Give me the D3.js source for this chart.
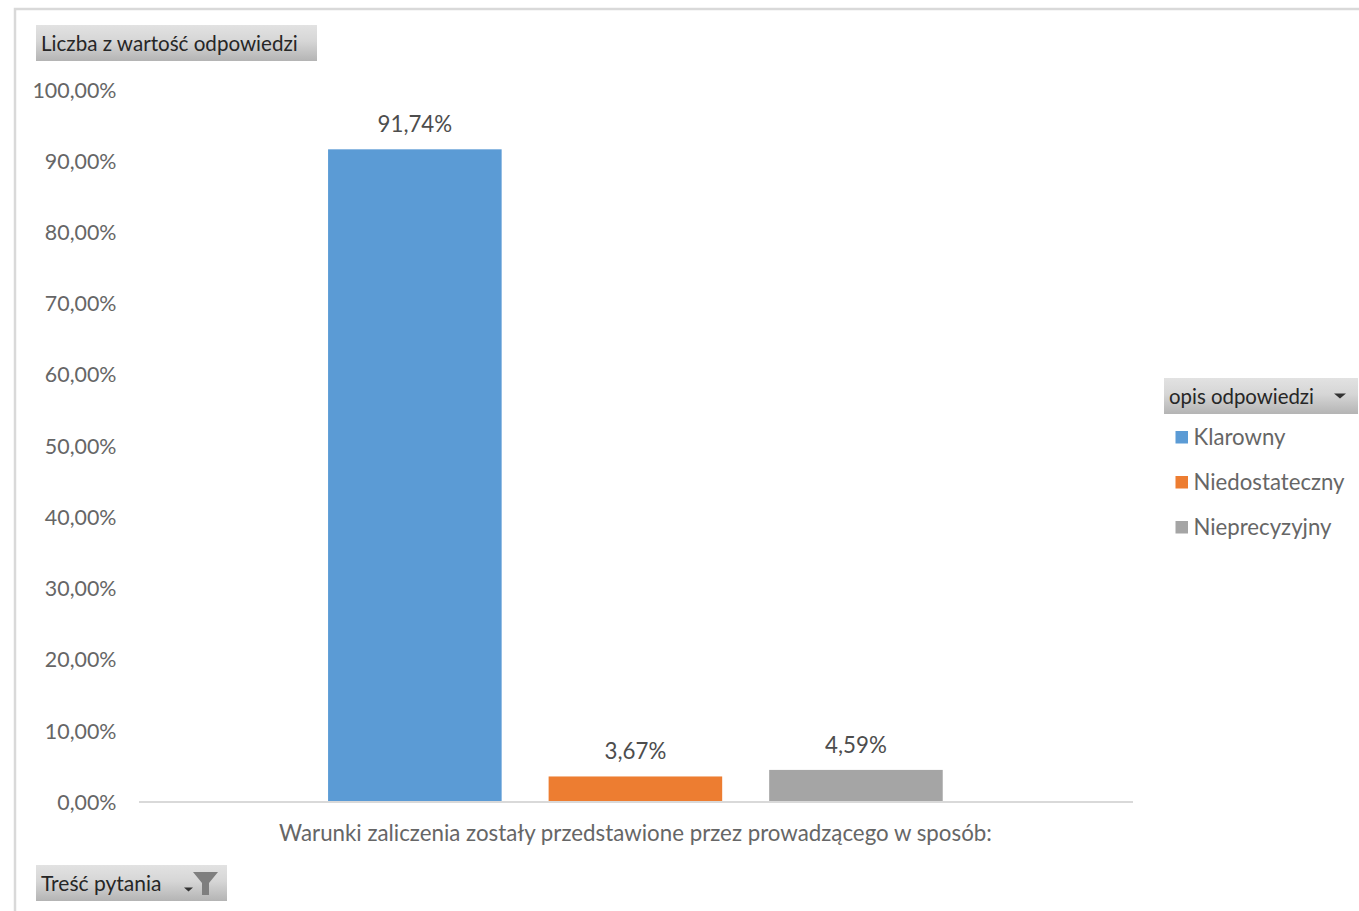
<!DOCTYPE html>
<html><head><meta charset="utf-8">
<script src="https://cdn.jsdelivr.net/npm/d3@7/dist/d3.min.js"></script>
<style>html,body{margin:0;padding:0;background:#fff;overflow:hidden}svg{display:block}text{font-family:Lato,"Open Sans",sans-serif}</style>
</head><body><svg id="c" width="1359" height="911"></svg>
<script>
const categories = ["Klarowny","Niedostateczny","Nieprecyzyjny"];
const values = [91.74,3.67,4.59];
const colors = ["#5B9BD5","#ED7D31","#A5A5A5"];
const ticks = [0,10,20,30,40,50,60,70,80,90,100];
const yTitle = "Liczba z wartość odpowiedzi";
const xTitle = "Warunki zaliczenia zostały przedstawione przez prowadzącego w sposób:";
const legendTitle = "opis odpowiedzi";
const filterTitle = "Treść pytania";
const fmt = v => v.toFixed(2).replace(".",",")+"%";

const svg = d3.select("#c");
const defs = svg.append("defs");
const g = defs.append("linearGradient").attr("id","btn").attr("x1",0).attr("x2",0).attr("y1",0).attr("y2",1);
g.append("stop").attr("offset","0").attr("stop-color","#e2e2e2");
g.append("stop").attr("offset","0.45").attr("stop-color","#d6d6d6");
g.append("stop").attr("offset","1").attr("stop-color","#b4b4b4");

// frame
svg.append("path").attr("d","M15,911V9H1359").attr("fill","none").attr("stroke","#d9d9d9").attr("stroke-width",2.5);

const y = d3.scaleLinear().domain([0,100]).range([802.6,90.5]);
const x = d3.scaleBand().domain(categories).range([138.4,1132.4]).paddingInner(0.213).paddingOuter(0.86);

const axis = d3.axisLeft(y).tickValues(ticks).tickFormat(fmt).tickSize(0).tickPadding(0);
const ag = svg.append("g").attr("transform","translate(116.5,0)").call(axis);
ag.select(".domain").remove();
ag.selectAll("text").attr("fill","#666666").style("font-size","21.4px").attr("dy","0.31em").style("font-family",'Lato,sans-serif');

svg.selectAll("rect.bar").data(categories).join("rect").attr("class","bar")
  .attr("x",d=>x(d)).attr("width",x.bandwidth())
  .attr("y",(d,i)=>y(values[i])).attr("height",(d,i)=>y(0)-y(values[i]))
  .attr("fill",(d,i)=>colors[i]);

svg.append("line").attr("x1",139).attr("x2",1133).attr("y1",802).attr("y2",802).attr("stroke","#d9d9d9").attr("stroke-width",2);

svg.selectAll("text.lab").data(categories).join("text").attr("class","lab")
  .attr("x",d=>x(d)+x.bandwidth()/2).attr("y",(d,i)=>y(values[i])-17)
  .attr("text-anchor","middle").attr("fill","#4d4d4d").style("font-size","22.3px")
  .text((d,i)=>fmt(values[i]));

svg.append("text").attr("x",635.5).attr("y",841).attr("text-anchor","middle").attr("fill","#666666").style("font-size","22.3px").text(xTitle);

function button(bx,by,w,h,t,fs){
  svg.append("rect").attr("x",bx).attr("y",by).attr("width",w).attr("height",h).attr("fill","url(#btn)");
  svg.append("text").attr("x",bx+5).attr("y",by+h/2+7.5).attr("fill","#262626").style("font-size",fs+"px").text(t);
}
button(36,25,281,36,yTitle,20.6);
button(1164,378,194,36,legendTitle,20.4);
button(36,865,191,36,filterTitle,21);

// dropdown arrows and filter icon
svg.append("path").attr("d","M1334,393.5h12l-6,5z").attr("fill","#333");
svg.append("path").attr("d","M184,887.5h9l-4.5,4z").attr("fill","#333");
svg.append("path").attr("d","M193,872h25l-9,11v12h-7v-12z").attr("fill","#7f7f7f");

// legend
const ly = d3.scalePoint().domain(categories).range([437,527]);
svg.selectAll("rect.sw").data(categories).join("rect").attr("class","sw")
  .attr("x",1175.5).attr("y",d=>ly(d)-6).attr("width",12.5).attr("height",12.5).attr("fill",(d,i)=>colors[i]);
svg.selectAll("text.lg").data(categories).join("text").attr("class","lg")
  .attr("x",1193.5).attr("y",d=>ly(d)+7.5).attr("fill","#666666").style("font-size","22.2px").text(d=>d);
</script></body></html>
